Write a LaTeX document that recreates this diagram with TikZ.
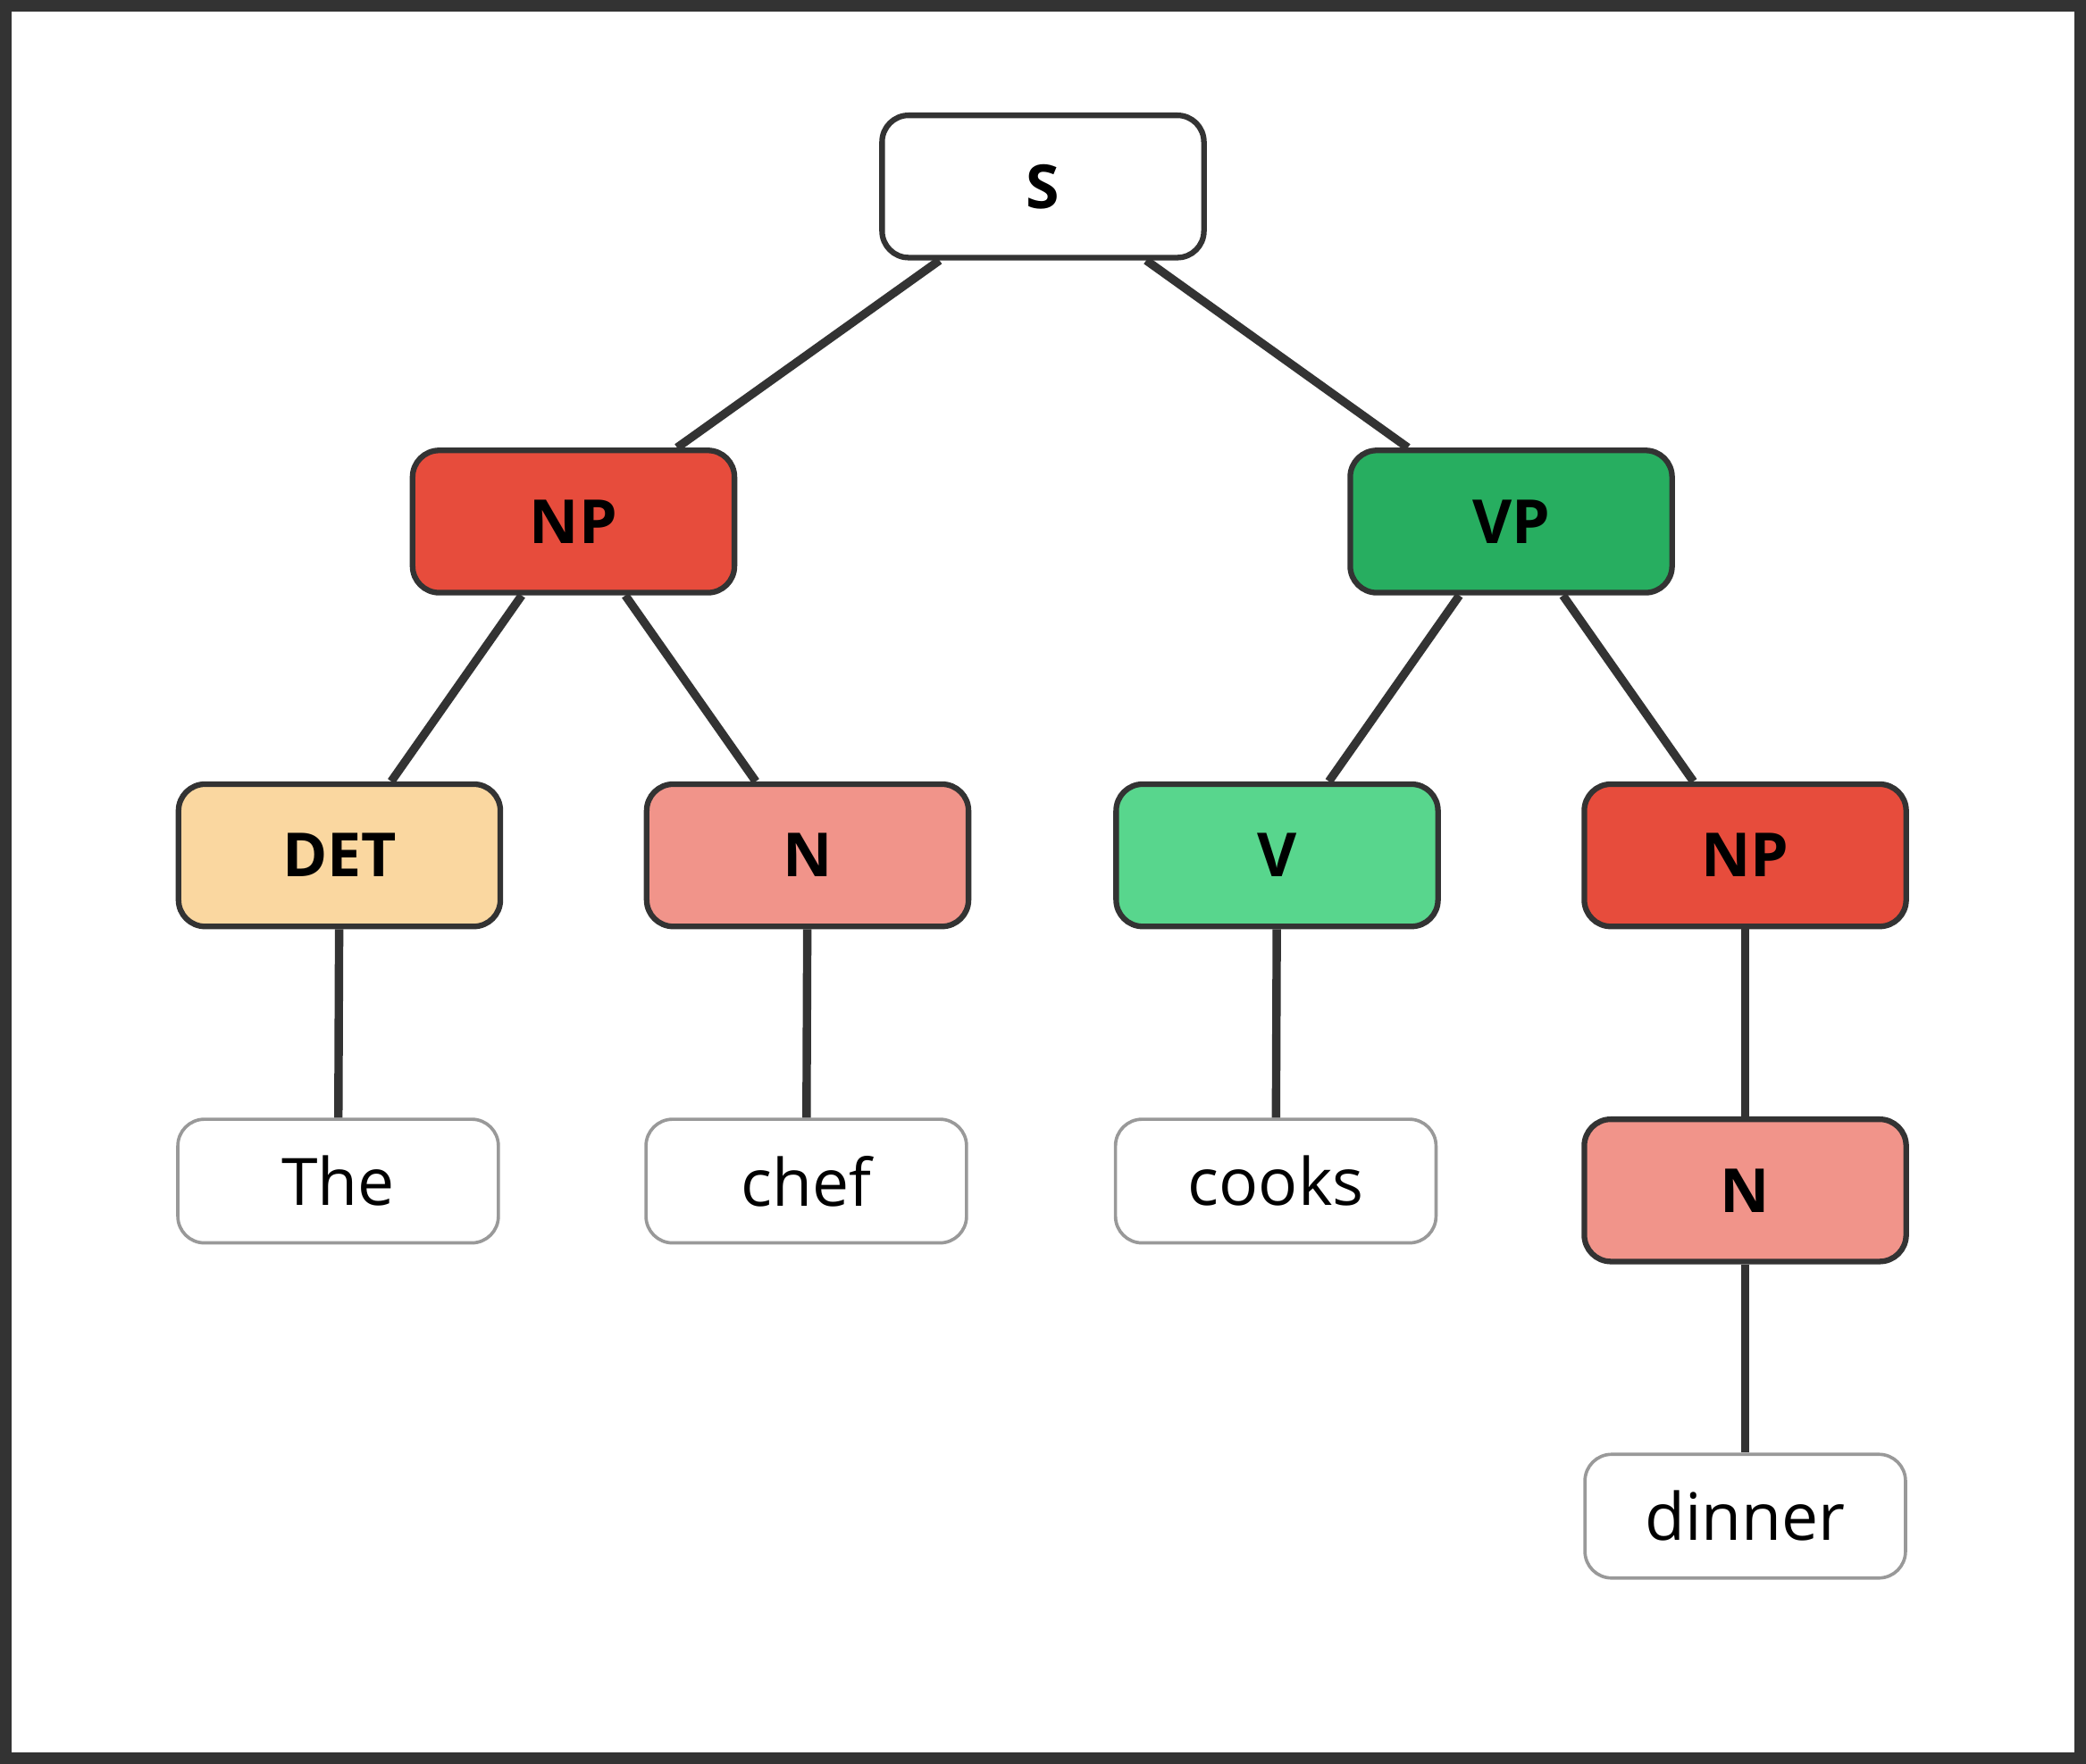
\documentclass[tikz,border=0pt]{standalone}
\usepackage{fontspec}
\setmainfont{Open Sans}
\usetikzlibrary{positioning}
\definecolor{edgecol}{HTML}{333333}
\definecolor{npcol}{HTML}{E74C3C}
\definecolor{vpcol}{HTML}{27AE60}
\definecolor{detcol}{HTML}{FAD7A0}
\definecolor{ncol}{HTML}{F1948A}
\definecolor{vcol}{HTML}{58D68D}
\tikzset{
  cat/.style={draw=edgecol,line width=1.2pt,rounded corners=0.2cm,minimum width=2.42cm,
    minimum height=1.07cm,font=\fontsize{13}{15}\selectfont\bfseries},
  word/.style={draw=gray!80,line width=0.7pt,rounded corners=0.2cm,minimum width=2.41cm,
    minimum height=0.93cm,font=\fontsize{14}{16}\selectfont},
  branch/.style={edgecol,line width=1.8pt}
}
\begin{document}
\begin{tikzpicture}
    % Frame
    \draw[edgecol,line width=2.4pt,fill=white] (0.04,-0.04) rectangle (15.64,-13.22);
    \useasboundingbox (0,0) rectangle (15.68,-13.26);

    % Tree nodes
    \node[cat,fill=white] (S)  at (7.84,-1.40) {S};
    \node[cat,fill=npcol] (NP) at (4.31,-3.92) {NP};
    \node[cat,fill=vpcol] (VP) at (11.36,-3.92) {VP};
    \node[cat,fill=detcol] (DET) at (2.55,-6.43) {DET};
    \node[cat,fill=ncol]  (N1)  at (6.07,-6.43) {N};
    \node[cat,fill=vcol]  (V)   at (9.60,-6.43) {V};
    \node[cat,fill=npcol] (NP2) at (13.12,-6.43) {NP};
    \node[cat,fill=ncol]  (N2)  at (13.12,-8.95) {N};

    % Words
    \node[word,fill=white] (the)    at (2.54,-8.88) {The};
    \node[word,fill=white] (chef)   at (6.06,-8.88) {chef};
    \node[word,fill=white] (cooks)  at (9.59,-8.88) {cooks};
    \node[word,fill=white] (dinner) at (13.12,-11.40) {dinner};

    % Branches
    \draw[branch] (S) -- (NP);
    \draw[branch] (S) -- (VP);
    \draw[branch] (NP) -- (DET);
    \draw[branch] (NP) -- (N1);
    \draw[branch] (VP) -- (V);
    \draw[branch] (VP) -- (NP2);
    \draw[branch] (DET) -- (the);
    \draw[branch] (N1) -- (chef);
    \draw[branch] (V) -- (cooks);
    \draw[branch] (NP2) -- (N2);
    \draw[branch] (N2) -- (dinner);
\end{tikzpicture}
\end{document}
